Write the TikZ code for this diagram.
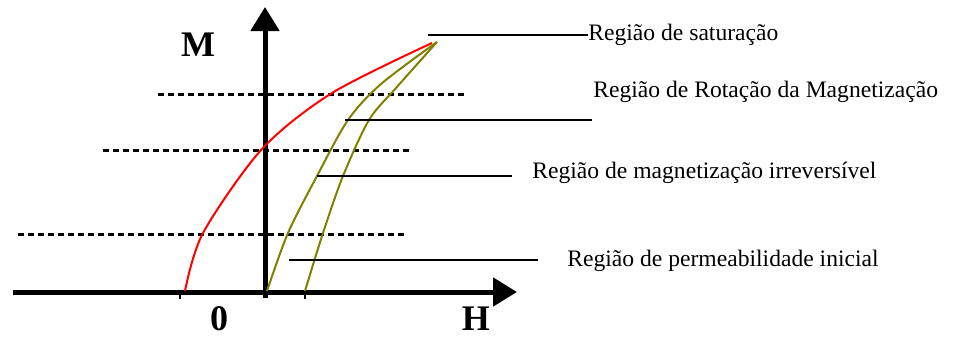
\documentclass[tikz,border=0pt]{standalone}
\usepackage{fontspec}
\setmainfont{Liberation Serif}
\usetikzlibrary{positioning,arrows.meta}
\definecolor{curveolive}{RGB}{128,128,0}
\tikzset{
  axisline/.style={line width=2.5pt, -{Triangle[length=12pt,width=14pt]}},
  levelline/.style={line width=1.5pt, dash pattern=on 3pt off 2pt},
  leaderline/.style={line width=1pt},
  tickline/.style={line width=0.7pt},
  curveline/.style={line width=1pt},
  regionlabel/.style={font=\fontsize{11.8}{14}\selectfont, anchor=west, inner sep=0pt},
  axislabel/.style={font=\fontsize{18}{20}\selectfont\bfseries, inner sep=0pt},
}

\begin{document}
\begin{tikzpicture}[x=0.5pt,y=-0.5pt]
  \useasboundingbox (0,0) rectangle (966,339);
  % eixos H e M
  \coordinate (hstart) at (13,292);
  \coordinate (hend) at (517,292);
  \coordinate (mfoot) at (265,298);
  \coordinate (mend) at (265,7);
  \draw[axisline] (hstart) -- (hend);
  \draw[axisline] (mfoot) -- (mend);
  \foreach \tx in {180,305} \draw[tickline] (\tx,292) -- (\tx,299);
  \node[axislabel] (mlab) at (198,45) {M};
  \node[axislabel] (zlab) at (219,319) {0};
  \node[axislabel] (hlab) at (476,319) {H};
  % niveis pontilhados
  \draw[levelline] (158,94) -- (465,94);
  \draw[levelline] (103,150) -- (410,150);
  \draw[levelline] (18,234) -- (406,234);
  % curvas
  \draw[curveline, red] plot[smooth] coordinates {(185,291) (203,233) (262,149) (332,93) (432,43)};
  \draw[curveline, curveolive] plot[smooth] coordinates {(267,291) (288,233) (317,176) (348,120) (381,84) (437,42)};
  \draw[curveline, curveolive] plot[smooth] coordinates {(305,291) (323,233) (343,176) (369,120) (396,88) (437,42)};
  % regioes
  \coordinate (satA) at (428,35);
  \node[regionlabel] (sat) at (588,35) {Região de saturação};
  \draw[leaderline] (satA) -- (sat.west);
  \coordinate (rotA) at (345,120);
  \coordinate (rotB) at (592,120);
  \node[regionlabel] (rot) at (593,92) {Região de Rotação da Magnetização};
  \draw[leaderline] (rotA) -- (rotB);
  \coordinate (irrA) at (317,176);
  \coordinate (irrB) at (512,176);
  \node[regionlabel] (irr) at (532,173) {Região de magnetização irreversível};
  \draw[leaderline] (irrA) -- (irrB);
  \coordinate (perA) at (289,260);
  \coordinate (perB) at (538,260);
  \node[regionlabel] (per) at (567,261) {Região de permeabilidade inicial};
  \draw[leaderline] (perA) -- (perB);
\end{tikzpicture}
\end{document}
